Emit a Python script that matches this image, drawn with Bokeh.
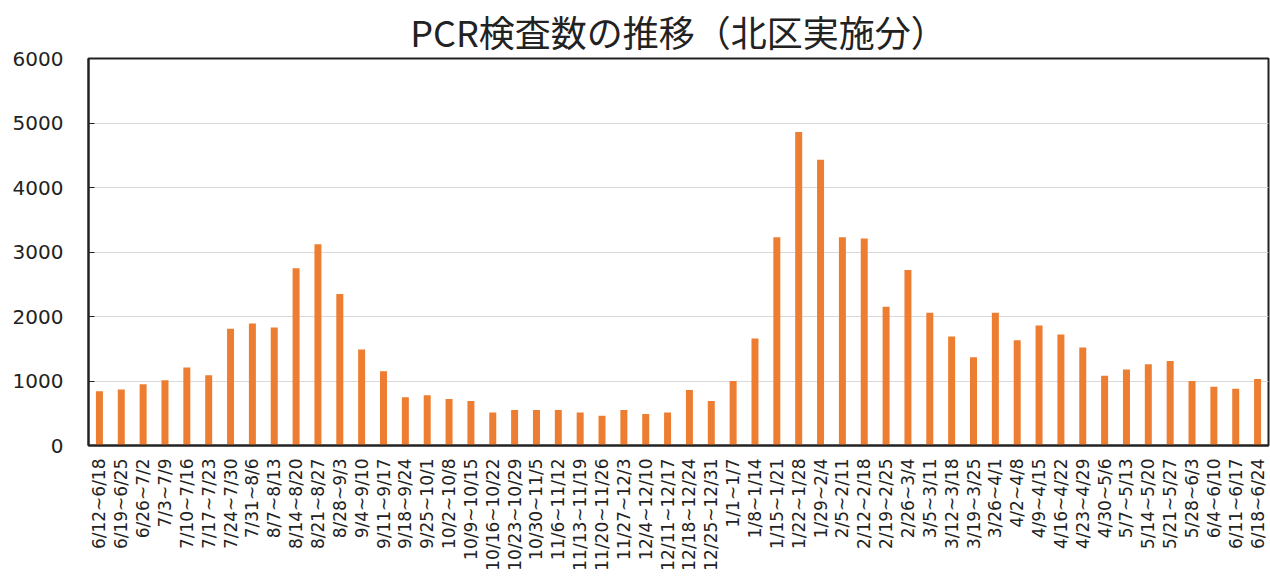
from bokeh.plotting import figure
from bokeh.models import FactorRange, Range1d, FixedTicker, ColumnDataSource
from bokeh.embed import file_html
from bokeh.resources import INLINE
import math

weeks = [
    "6/12~6/18", "6/19~6/25", "6/26~7/2", "7/3~7/9", "7/10~7/16", "7/17~7/23",
    "7/24~7/30", "7/31~8/6", "8/7~8/13", "8/14~8/20", "8/21~8/27", "8/28~9/3",
    "9/4~9/10", "9/11~9/17", "9/18~9/24", "9/25~10/1", "10/2~10/8", "10/9~10/15",
    "10/16~10/22", "10/23~10/29", "10/30~11/5", "11/6~11/12", "11/13~11/19",
    "11/20~11/26", "11/27~12/3", "12/4~12/10", "12/11~12/17", "12/18~12/24",
    "12/25~12/31", "1/1~1/7", "1/8~1/14", "1/15~1/21", "1/22~1/28", "1/29~2/4",
    "2/5~2/11", "2/12~2/18", "2/19~2/25", "2/26~3/4", "3/5~3/11", "3/12~3/18",
    "3/19~3/25", "3/26~4/1", "4/2~4/8", "4/9~4/15", "4/16~4/22", "4/23~4/29",
    "4/30~5/6", "5/7~5/13", "5/14~5/20", "5/21~5/27", "5/28~6/3", "6/4~6/10",
    "6/11~6/17", "6/18~6/24",
]
tests = [
    840, 870, 950, 1010, 1210, 1090,
    1810, 1890, 1830, 2750, 3120, 2350,
    1490, 1150, 750, 780, 720, 690,
    510, 550, 550, 550, 510,
    460, 550, 490, 510, 860,
    690, 1000, 1660, 3230, 4860, 4430,
    3230, 3210, 2150, 2720, 2060, 1690,
    1370, 2060, 1630, 1860, 1720, 1520,
    1080, 1180, 1260, 1310, 1000, 910,
    880, 1030,
]
y_ticks = [0, 1000, 2000, 3000, 4000, 5000, 6000]
title_text = "PCR検査数の推移（北区実施分）"

source = ColumnDataSource(data=dict(week=weeks, tests=tests))

p = figure(
    x_range=FactorRange(*weeks, range_padding=0),
    y_range=Range1d(0, 6000),
    width=1270, height=577,
    output_backend="svg", toolbar_location=None,
    min_border_left=88, min_border_right=2,
    min_border_top=58, min_border_bottom=132,
)
p.vbar(x="week", top="tests", width=0.32, source=source,
       fill_color="#ED7D31", line_color=None)

p.title.text = title_text
p.title.align = "center"
p.title.text_font = "Noto Sans CJK JP"
p.title.text_font_size = "36px"
p.title.text_font_style = "normal"
p.title.text_color = "#222222"
p.title.standoff = 4

p.outline_line_color = "#222222"
p.outline_line_width = 2
p.background_fill_color = "white"
p.border_fill_color = "white"

p.xgrid.grid_line_color = None
p.ygrid.grid_line_color = "#D9D9D9"
p.ygrid.grid_line_width = 1
p.yaxis.ticker = FixedTicker(ticks=y_ticks)

p.yaxis.axis_line_color = "#222222"
p.yaxis.axis_line_width = 2
p.yaxis.major_tick_in = 6
p.yaxis.major_tick_out = 0
p.yaxis.minor_tick_line_color = None
p.yaxis.major_tick_line_color = "#222222"
p.yaxis.major_label_standoff = 25
p.yaxis.major_label_text_font = "DejaVu Sans"
p.yaxis.major_label_text_font_size = "20px"
p.yaxis.major_label_text_color = "#222222"

p.xaxis.axis_line_color = "#222222"
p.xaxis.axis_line_width = 2
p.xaxis.major_tick_line_color = None
p.xaxis.major_tick_in = 0
p.xaxis.major_tick_out = 0
p.xaxis.major_label_orientation = math.pi / 2
p.xaxis.major_label_standoff = 13
p.xaxis.major_label_text_font = "DejaVu Sans"
p.xaxis.major_label_text_font_size = "17px"
p.xaxis.major_label_text_color = "#222222"

open("out.html", "w").write(file_html(p, INLINE))
